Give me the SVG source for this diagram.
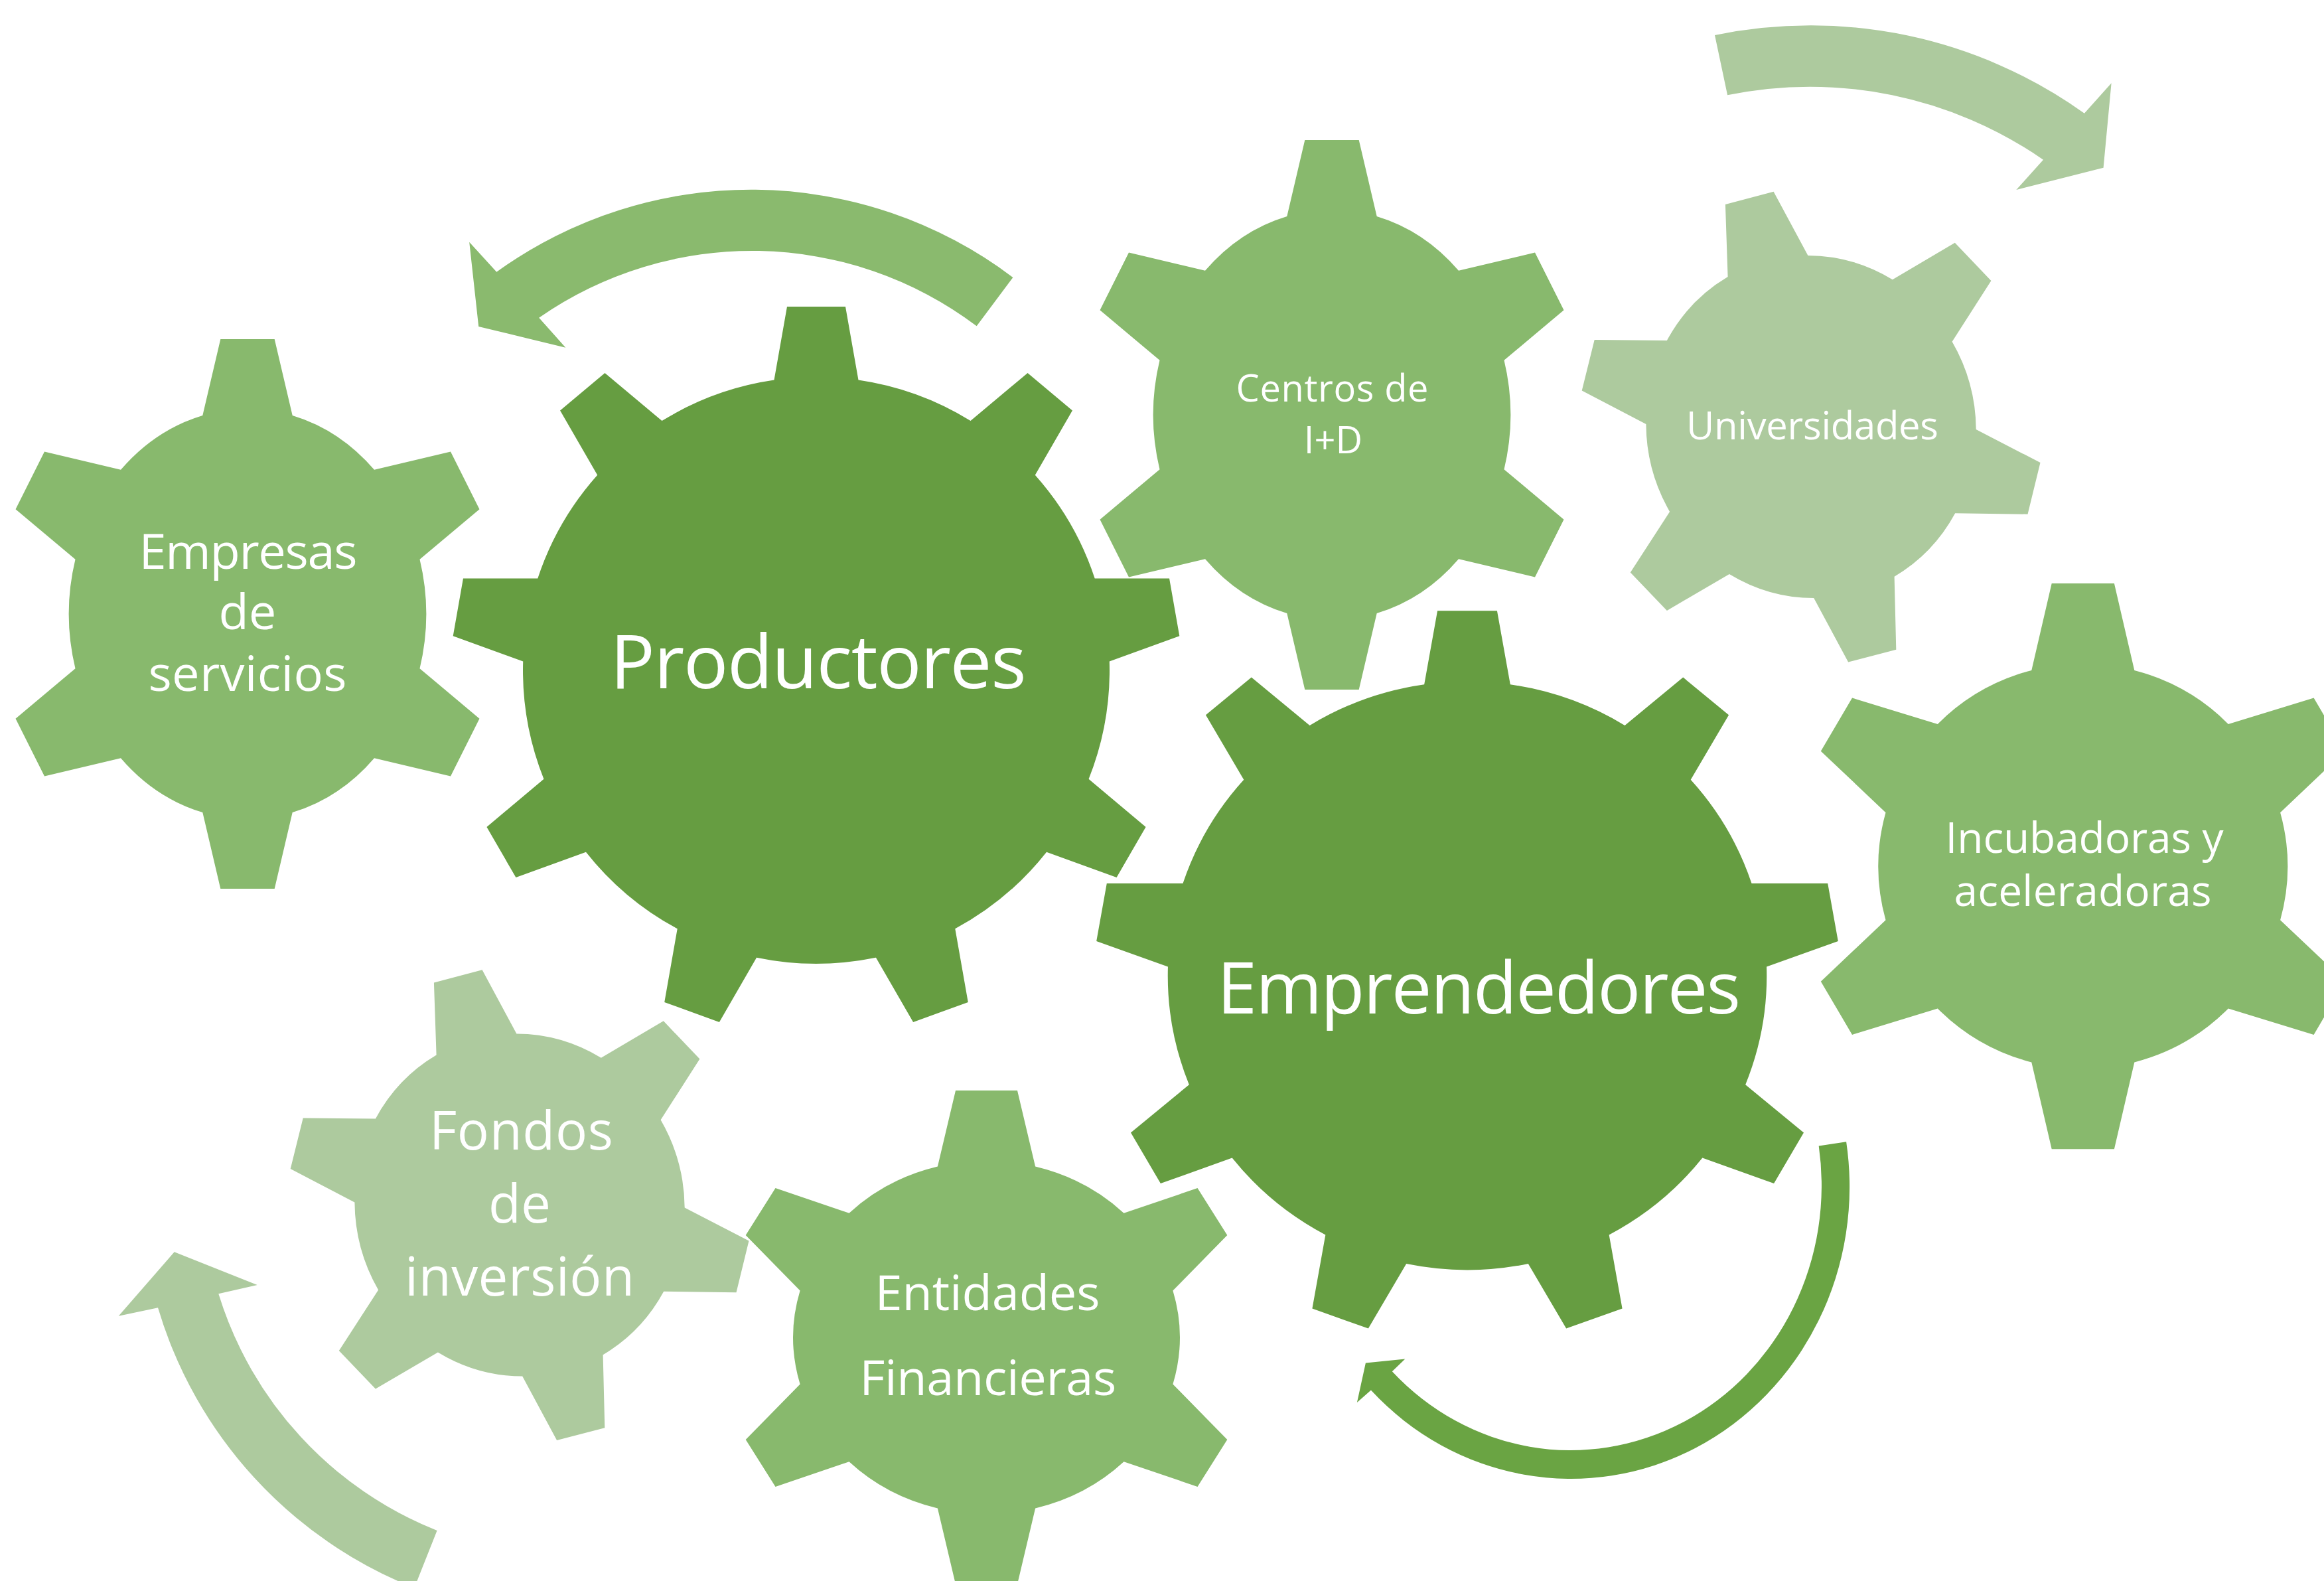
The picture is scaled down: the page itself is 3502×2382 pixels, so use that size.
<svg xmlns="http://www.w3.org/2000/svg" xmlns:xlink="http://www.w3.org/1999/xlink" width="3502" height="2382" viewBox="0 0 3502 2382">
<style>
.dark{fill:#669D41}
.mid{fill:#88B96D}
.light{fill:#ADCA9E}
.lbl{fill:#FFFFFF;font-family:"Open Sans","Liberation Sans",sans-serif;text-anchor:middle}
</style>
<defs>
<path id="gear9" d="M -63.5,-437.4 L -44,-548 L 44,-548 L 63.5,-437.4 A 442 442 0 0 1 232.52,-375.89 L 318.54,-448.07 L 385.96,-391.51 L 329.8,-294.25 A 442 442 0 0 1 419.72,-138.49 L 532.03,-138.49 L 547.31,-51.83 L 441.78,-13.41 A 442 442 0 0 1 410.55,163.71 L 496.58,235.89 L 452.58,312.11 L 347.05,273.69 A 442 442 0 0 1 209.27,389.3 L 228.78,499.9 L 146.08,530 L 89.93,432.74 A 442 442 0 0 1 -89.93,432.74 L -146.08,530 L -228.78,499.9 L -209.27,389.3 A 442 442 0 0 1 -347.05,273.69 L -452.58,312.11 L -496.58,235.89 L -410.55,163.71 A 442 442 0 0 1 -441.78,-13.41 L -547.31,-51.83 L -532.03,-138.49 L -419.72,-138.49 A 442 442 0 0 1 -329.8,-294.25 L -385.96,-391.51 L -318.54,-448.07 L -232.52,-375.89 A 442 442 0 0 1 -63.5,-437.4 Z"/>
<path id="gear6a" d="M -67.7,-299 L -40.7,-414 L 40.7,-414 L 67.7,-299 A 269 309 0 0 1 191,-217.2 L 306,-244.4 L 349.5,-157.7 L 259.5,-82.2 A 269 309 0 0 1 259.5,82.2 L 349.5,157.7 L 306,244.4 L 191,217.2 A 269 309 0 0 1 67.7,299 L 40.7,414 L -40.7,414 L -67.7,299 A 269 309 0 0 1 -191,217.2 L -306,244.4 L -349.5,157.7 L -259.5,82.2 A 269 309 0 0 1 -259.5,-82.2 L -349.5,-157.7 L -306,-244.4 L -191,-217.2 A 269 309 0 0 1 -67.7,-299 Z"/>
<path id="gear6b" d="M -125.4,-226 L -129.1,-335 L -56.4,-354.3 L -4.6,-258 A 249 259 -15 0 1 122.8,-221.8 L 216.8,-277.2 L 271.4,-219.9 L 212.6,-128.2 A 249 259 -15 0 1 248.7,3.9 L 345.5,54.1 L 326.5,131.7 L 217.2,130.3 A 249 259 -15 0 1 125.6,225.7 L 128.3,335.7 L 56.1,354.5 L 4.2,258.1 A 249 259 -15 0 1 -123.1,221.9 L -217.1,277 L -272.2,219.6 L -212.9,127.9 A 249 259 -15 0 1 -248.6,-4.1 L -345.3,-54.4 L -326.3,-131 L -217.1,-130.1 A 249 259 -15 0 1 -125.4,-226 Z"/>
<path id="gear6c" d="M -77.5,-295.3 L -47.1,-426.1 L 47.1,-426.1 L 77.5,-295.3 A 308 305 0 0 1 219,-214.3 L 347.8,-253.7 L 395,-173.5 L 297.3,-81 A 308 305 0 0 1 297.3,81 L 395,173.5 L 347.8,253.7 L 219,214.3 A 308 305 0 0 1 77.5,295.3 L 47.1,426.1 L -47.1,426.1 L -77.5,295.3 A 308 305 0 0 1 -219,214.3 L -347.8,253.7 L -395,173.5 L -297.3,81 A 308 305 0 0 1 -297.3,-81 L -395,-173.5 L -347.8,-253.7 L -219,-214.3 A 308 305 0 0 1 -77.5,-295.3 Z"/>
<path id="gear6d" d="M -73.6,-257.5 L -46.5,-372 L 46.5,-372 L 73.6,-257.5 A 291 266 0 0 1 207,-187.3 L 318,-224.9 L 362.8,-154.1 L 280.9,-70.5 A 291 266 0 0 1 280.9,70.5 L 362.8,154.1 L 318,224.9 L 207,187.3 A 291 266 0 0 1 73.6,257.5 L 46.5,372 L -46.5,372 L -73.6,257.5 A 291 266 0 0 1 -207,187.3 L -318,224.9 L -362.8,154.1 L -280.9,70.5 A 291 266 0 0 1 -280.9,-70.5 L -362.8,-154.1 L -318,-224.9 L -207,-187.3 A 291 266 0 0 1 -73.6,-257.5 Z"/>
</defs>
<rect width="3502" height="2382" fill="#FFFFFF"/>

<g id="connectors">
<path id="arrow-productores" fill="#8ABA6E" d="M 1526.4,418 A 655 655 0 0 0 748.3,409.7 L 707.2,364.7 L 721.2,492 L 852.3,523.7 L 812.2,478.7 A 562 562 0 0 1 1471.7,491.3 Z"/>
<path id="arrow-universidades" fill="#ADCA9E" d="M 2584,53 A 710 710 0 0 1 3140.9,170.7 L 3181.6,125.3 L 3169.6,252.7 L 3038.3,286 L 3079,240.7 A 617 617 0 0 0 2603.1,143.3 Z"/>
<path id="arrow-emprendedores" fill="#6AA443" d="M 2782.1,1720.2 A 420 440 0 0 1 2065.9,2094.6 L 2044.9,2113 L 2057.9,2053.5 L 2117.3,2047.4 L 2097.8,2066.2 A 378 399 0 0 0 2740.7,1726.4 Z"/>
<path id="arrow-fondos" fill="#ADCA9E" d="M 624.3,2392.4 A 655 655 0 0 1 238,1970.3 L 178.7,1982.7 L 262.7,1886.3 L 387.7,1936 L 329.3,1949.3 A 562 562 0 0 0 658.6,2306 Z"/>
</g>

<g id="node-empresas">
<use xlink:href="#gear6a" class="mid" transform="translate(373,925)"/>
<text class="lbl" font-size="74"><tspan x="374" y="856.5" textLength="329" lengthAdjust="spacing">Empresas</tspan><tspan x="373" y="948">de</tspan><tspan x="373" y="1041" textLength="299" lengthAdjust="spacing">servicios</tspan></text>
</g>

<g id="node-productores">
<use xlink:href="#gear9" class="dark" transform="translate(1230,1010)"/>
<text class="lbl" font-size="112" x="1233" y="1036.5" textLength="627" lengthAdjust="spacing">Productores</text>
</g>

<g id="node-centros">
<use xlink:href="#gear6a" class="mid" transform="translate(2007,625)"/>
<text class="lbl" font-size="56"><tspan x="2007.5" y="605" textLength="290" lengthAdjust="spacing">Centros de</tspan><tspan x="2009" y="683">I+D</tspan></text>
</g>

<g id="node-universidades">
<use xlink:href="#gear6b" class="light" transform="translate(2729,643)"/>
<text class="lbl" font-size="58" x="2731" y="662" textLength="380" lengthAdjust="spacing">Universidades</text>
</g>

<g id="node-emprendedores">
<use xlink:href="#gear9" class="dark" transform="translate(2211,1470) scale(1.021,1.003)"/>
<text class="lbl" font-size="108" x="2228.5" y="1526.5" textLength="789" lengthAdjust="spacing">Emprendedores</text>
</g>

<g id="node-incubadoras">
<use xlink:href="#gear6c" class="mid" transform="translate(3138.8,1305.2)"/>
<text class="lbl" font-size="64"><tspan x="3141" y="1285" textLength="419" lengthAdjust="spacing">Incubadoras y</tspan><tspan x="3138.6" y="1365" textLength="388" lengthAdjust="spacing">aceleradoras</tspan></text>
</g>

<g id="node-fondos">
<use xlink:href="#gear6b" class="light" transform="translate(783,1815.5)"/>
<text class="lbl" font-size="80"><tspan x="785.4" y="1732" textLength="277" lengthAdjust="spacing">Fondos</tspan><tspan x="783" y="1842">de</tspan><tspan x="783" y="1952" textLength="346" lengthAdjust="spacing">inversión</tspan></text>
</g>

<g id="node-entidades">
<use xlink:href="#gear6d" class="mid" transform="translate(1486.5,2015)"/>
<text class="lbl" font-size="74"><tspan x="1488" y="1974.3" textLength="339" lengthAdjust="spacing">Entidades</tspan><tspan x="1488.7" y="2102.4" textLength="387" lengthAdjust="spacing">Financieras</tspan></text>
</g>
</svg>
